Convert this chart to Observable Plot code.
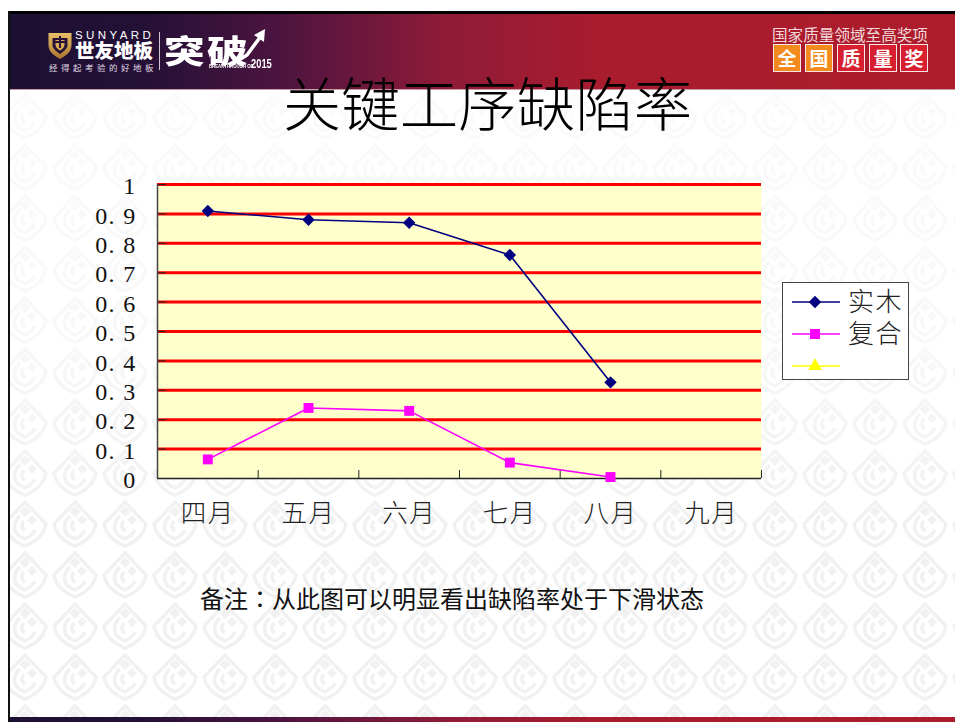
<!DOCTYPE html>
<html lang="zh-CN">
<head>
<meta charset="utf-8">
<script src="https://cdn.jsdelivr.net/npm/d3@7"></script>
<script src="https://cdn.jsdelivr.net/npm/@observablehq/plot@0.6"></script>
<style>
html,body{margin:0;padding:0;background:#fff}
body{width:955px;height:722px;overflow:hidden;font-family:"Noto Sans CJK SC",sans-serif}
#stage{position:relative;width:955px;height:722px;overflow:hidden;background:#fff}
#stage>*{position:absolute}
.band{left:10px;right:0;background:linear-gradient(90deg,#1c1033 0%,#241036 14%,#4a1440 28%,#8f1b38 46%,#a81c2e 62%,#ad1c2b 100%)}
#wm{left:10px;top:89px;right:0;bottom:5px;filter:blur(.6px)}
#fade{left:10px;top:89px;right:0;bottom:5px;background:linear-gradient(180deg,rgba(255,255,255,.7) 0%,rgba(255,255,255,.5) 40%,rgba(255,255,255,0) 70%)}
#title{left:0;width:975px;top:59px;text-align:center;font-size:58.500px;line-height:84px;font-weight:300;color:#000;white-space:nowrap}
#note{left:200px;top:581px;font-size:24px;line-height:34px;color:#111;white-space:nowrap}
#note span{font-family:"Noto Sans CJK TC",sans-serif}
#legend{left:782px;top:282px;width:125px;height:96px;border:1px solid #444;background:#fff}
.t{color:#fff;white-space:nowrap}
.tile{width:26px;height:26px;top:44px;border:1.5px solid #f6e6e6;color:#fff;text-align:center;font-size:19px;line-height:26px;font-weight:700}
g[aria-label="y-axis tick label"] text{letter-spacing:1.3px}
g[aria-label="x-axis tick label"] text{letter-spacing:1.5px}
</style>
</head>
<body>
<div id="stage">
  <div id="wm"></div><div id="fade"></div>
  <div style="left:8px;top:11px;width:947px;height:3px;background:#000"></div>
  <div style="left:8px;top:11px;width:2px;height:711px;background:#111"></div>
  <div class="band" style="top:14px;height:75px"></div>
  <div class="band" style="top:717px;height:5px"></div>
  <div style="left:10px;right:0;top:89px;height:1px;background:#c79aa5"></div>
  <svg style="left:47px;top:31px" width="26" height="29" viewBox="0 0 25 29"><defs><linearGradient id="gold" x1="0" x2="0" y1="0" y2="1"><stop offset="0" stop-color="#e8c068"/><stop offset="1" stop-color="#a9762c"/></linearGradient></defs><path d="M1 2H24V14C24 21 18 25 12.500 28C7 25 1 21 1 14Z" fill="url(#gold)"/><path d="M5 7H20V14C20 18 15.500 21 12.500 23C9.500 21 5 18 5 14Z" fill="#2a1138"/><path d="M8 9H17V14C17 16 15 18 12.500 19.500C10 18 8 16 8 14Z" fill="#d9ad55"/><path d="M11.500 5H13.500V17H11.500ZM7 10H18V12H7Z" fill="#2a1138"/></svg>
  <div class="t" style="left:75px;top:28px;font:400 11.500px/14px 'Liberation Sans';letter-spacing:3.400px">SUNYARD</div>
  <div class="t" style="left:75px;top:39px;font-size:19.500px;line-height:22px;font-weight:900">世友地板</div>
  <div class="t" style="left:49px;top:61px;font-size:8.500px;line-height:12px;letter-spacing:3.500px;color:#e2dce4">经得起考验的好地板</div>
  <div style="left:159px;top:32px;width:1px;height:38px;background:#cfc6d6"></div>
  <div class="t" style="left:164px;top:32px;font-size:37px;line-height:42px;font-weight:900;letter-spacing:2px;transform:scale(1.1,.85);transform-origin:left top">突破</div>
  <svg style="left:225px;top:28px" width="42" height="36" viewBox="0 0 42 36"><path d="M14 32L22 27L36 8" stroke="#fff" stroke-width="3.500" fill="none"/><path d="M40 1L39 14L29 7Z" fill="#fff"/></svg>
  <div class="t" style="left:209px;top:63px;font:700 5px/7px 'Liberation Sans';transform:scaleX(.86);transform-origin:left top">BREAKTHROUGH OF</div>
  <div class="t" style="left:251px;top:58px;font:700 12px/12px 'Liberation Sans';transform:scaleX(.78);transform-origin:left top">2015</div>
  <div class="t" style="left:772px;top:24px;font-size:15.600px;line-height:20px;color:#f0d9dc">国家质量领域至高奖项</div>
  <div class="tile" style="left:773px;background:#f28a1e">全</div>
  <div class="tile" style="left:805px;background:#f28a1e">国</div>
  <div class="tile" style="left:837px;background:#d81f30">质</div>
  <div class="tile" style="left:869px;background:#d81f30">量</div>
  <div class="tile" style="left:900px;background:#d81f30">奖</div>
  <div id="plot" style="left:0;top:0"></div>
  <div id="title">关键工序缺陷率</div>
  <div id="legend"></div>
  <div id="note">备注<span lang="zh-TW">：</span>从此图可以明显看出缺陷率处于下滑状态</div>
</div>
<script>
const months = ["四月","五月","六月","七月","八月","九月"];
const solidWood = [0.91,0.88,0.87,0.76,0.327,null];
const composite = [0.065,0.24,0.23,0.054,0.005,null];
const third = [null,null,null,null,null,null];
const seriesNames = ["实木","复合",""];
const seriesColors = ["#000080","#FF00FF","#FFFF00"];
const seriesSymbols = ["diamond2","square","triangle"];
const yTicks = [0,0.1,0.2,0.3,0.4,0.5,0.6,0.7,0.8,0.9,1];
const gridLines = yTicks.slice(1);

const rows = [solidWood,composite,third].flatMap((vals,s)=>
  vals.map((v,i)=>({month:months[i],value:v,series:seriesNames[s]||"系列3"})).filter(d=>d.value!==null));
const colorDomain = seriesNames.map(n=>n||"系列3");

const wm = `<svg xmlns='http://www.w3.org/2000/svg' width='50' height='51' viewBox='0 0 50 51'><g fill='none' stroke='#f1f1f1' stroke-width='3.6'><path d='M25 5L46 27C44 38 35 45 25 49C15 45 6 38 4 27Z'/><path d='M20 19C14 24 13 32 17 37C20 40 23 41 25 42C29 40 33 37 35 33'/><path d='M24 24C21 27 21 31 25 34'/></g><path d='M25 9L30.500 14.500L25 20L19.500 14.500Z' fill='#f1f1f1'/><path d='M32 18L37 23L32 28L27 23Z' fill='#f1f1f1'/></svg>`;
const wmEl = document.getElementById("wm");
wmEl.style.backgroundImage = `url("data:image/svg+xml,${encodeURIComponent(wm)}")`;
wmEl.style.backgroundPosition = "-10px 0px";
wmEl.style.backgroundSize = "50px 51px";

const serif = `"Liberation Serif","DejaVu Serif",serif`;
const chart = Plot.plot({
  width:955, height:722,
  marginLeft:157, marginRight:194, marginTop:184, marginBottom:244,
  style:{background:"transparent",fontFamily:serif,color:"#111",overflow:"visible"},
  x:{type:"band",domain:months,label:null,padding:0,round:false},
  y:{domain:[0,1],label:null},
  color:{domain:colorDomain,range:seriesColors},
  marks:[
    Plot.frame({fill:"#FFFFCC",stroke:null}),
    Plot.ruleY(gridLines,{stroke:"#FF0000",strokeWidth:3}),
    Plot.ruleX(months,{x:d=>d,dx:50.33,y1:0,y2:0.027,stroke:"#222",strokeWidth:1}),
    Plot.axisY({ticks:yTicks,tickSize:-9,text:null,stroke:"#222",label:null}),
    Plot.axisY({ticks:yTicks,tickSize:0,tickPadding:21,dy:2,fontSize:24,
      tickFormat:d=>d===0||d===1?String(d):d3.format(".1f")(d).replace(".",". "),label:null}),
    Plot.axisX({tickSize:0,tickPadding:25,fontSize:25.500,label:null,fontFamily:`"Noto Sans CJK SC",sans-serif`,fontWeight:300,fill:"#222"}),
    Plot.ruleX([months[0]],{dx:-50.33,stroke:"#444",strokeWidth:1.5}),
    Plot.ruleY([0],{stroke:"#222",strokeWidth:1.5}),
    Plot.line(rows,{x:"month",y:"value",stroke:"series",z:"series",strokeWidth:1.6,curve:"linear"}),
    Plot.dot(rows,{x:"month",y:"value",fill:"series",symbol:d=>seriesSymbols[colorDomain.indexOf(d.series)],r:5.6})
  ]
});
document.getElementById("plot").appendChild(chart);

const leg=d3.select("#legend").append("svg").attr("width",125).attr("height",96).style("display","block").style("overflow","visible");
const keyY=[19,51,83];
seriesNames.forEach((n,i)=>{
  const g=leg.append("g").attr("transform",`translate(0,${keyY[i]})`);
  g.append("line").attr("x1",9).attr("x2",57).attr("stroke",seriesColors[i]).attr("stroke-width",1.6);
  g.append("path").attr("transform","translate(32,0)").attr("fill",seriesColors[i])
   .attr("d",d3.symbol(i===0?d3.symbolDiamond2:i===1?d3.symbolSquare:d3.symbolTriangle,i===0?100:i===1?100:80)());
  g.append("text").attr("x",65).attr("y",9).attr("font-size",26).attr("letter-spacing",1.5).attr("font-weight",300)
   .attr("fill","#222").attr("font-family",`"Noto Sans CJK SC",sans-serif`).text(n);
});
</script>
</body>
</html>
